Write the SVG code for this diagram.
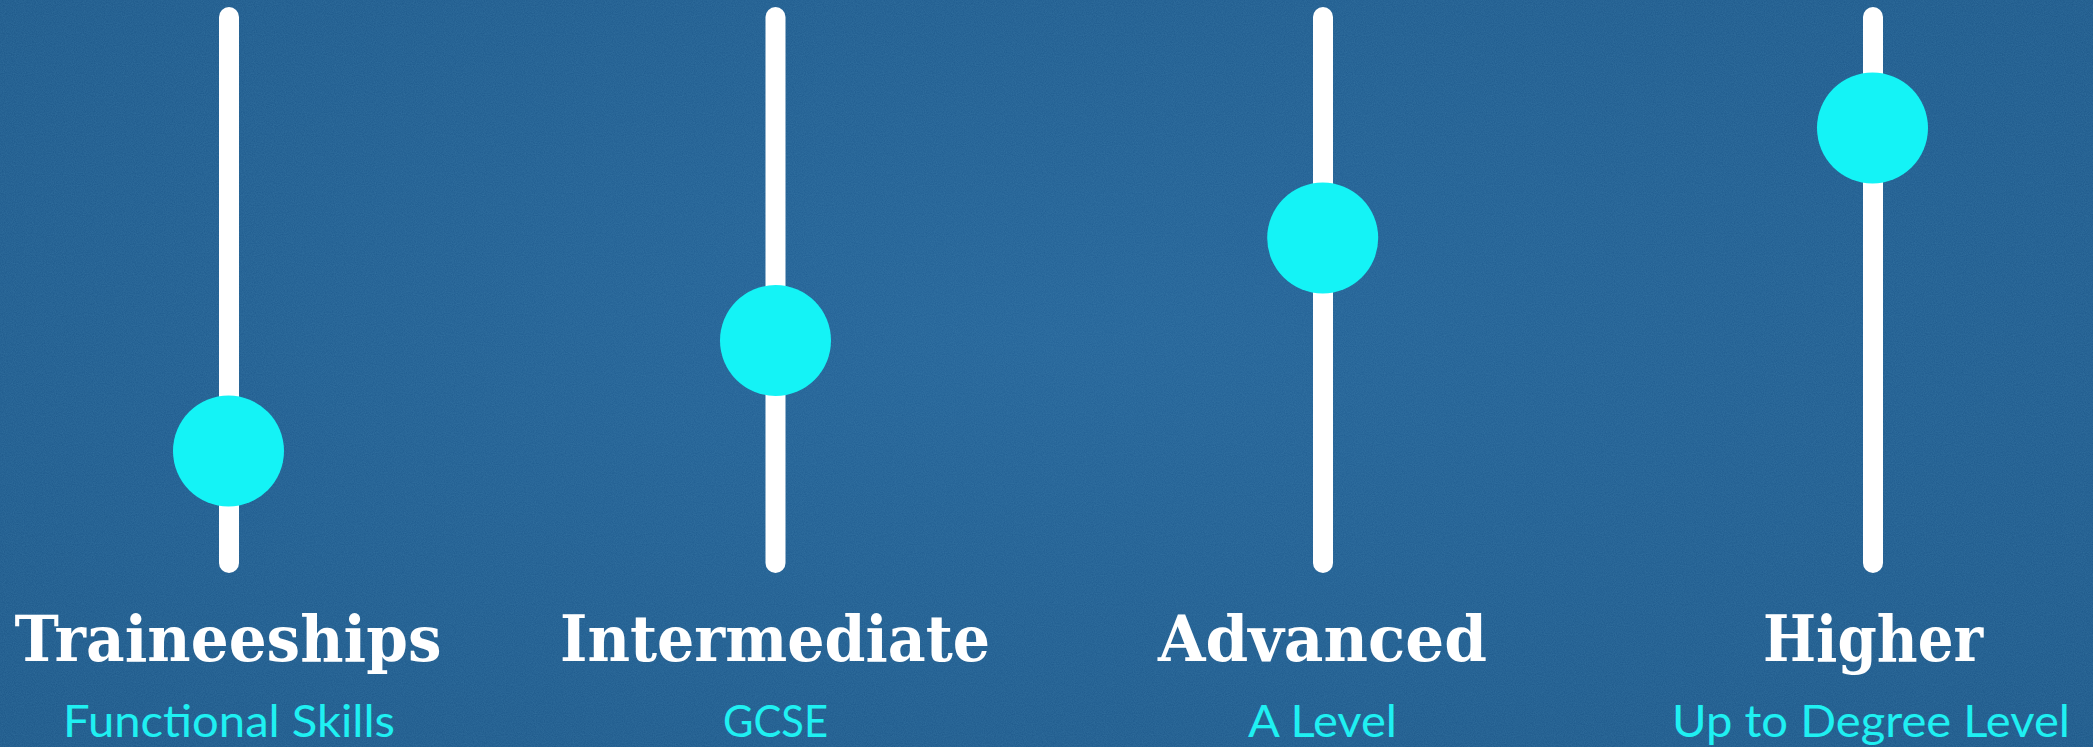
<svg xmlns="http://www.w3.org/2000/svg" width="2093" height="747" viewBox="0 0 2093 747">
  <defs>
    <radialGradient id="bg" cx="50%" cy="45%" r="75%">
      <stop offset="0" stop-color="#236297"/>
      <stop offset="1" stop-color="#1c5687"/>
    </radialGradient>
    <filter id="noise" x="0" y="0" width="100%" height="100%">
      <feTurbulence type="fractalNoise" baseFrequency="0.9" numOctaves="2" seed="3" result="n"/>
      <feColorMatrix in="n" type="matrix" values="0 0 0 0 0.1  0 0 0 0 0.33  0 0 0 0 0.55  0 0 0 0.3 0"/>
    </filter>
    <style>
      .track { stroke: #ffffff; stroke-width: 20; stroke-linecap: round; fill: none; }
      .knob { fill: #14f3f6; }
      .title { font-family: "DejaVu Serif", "Liberation Serif", serif; font-weight: bold; font-size: 64px; fill: #ffffff; text-anchor: middle; }
      .sub { font-family: "Lato", "Open Sans", "Liberation Sans", sans-serif; font-size: 44px; fill: #1ff0f2; text-anchor: middle; }
    </style>
  </defs>
  <rect x="0" y="0" width="2093" height="747" fill="url(#bg)"/>
  <rect x="0" y="0" width="2093" height="747" filter="url(#noise)"/>
  <g id="connectors"></g>
  <g id="traineeships">
    <line class="track" x1="229" y1="17" x2="229" y2="563"/>
    <circle class="knob" cx="228.5" cy="451" r="55.5"/>
    <text class="title" x="228" y="661" textLength="427" lengthAdjust="spacingAndGlyphs">Traineeships</text>
    <text class="sub" x="229" y="737" textLength="332" lengthAdjust="spacingAndGlyphs">Functional Skills</text>
  </g>
  <g id="intermediate">
    <line class="track" x1="775.5" y1="17" x2="775.5" y2="563"/>
    <circle class="knob" cx="775.5" cy="340.5" r="55.5"/>
    <text class="title" x="775" y="661" textLength="430" lengthAdjust="spacingAndGlyphs">Intermediate</text>
    <text class="sub" x="775.5" y="737" textLength="105" lengthAdjust="spacingAndGlyphs">GCSE</text>
  </g>
  <g id="advanced">
    <line class="track" x1="1323" y1="17" x2="1323" y2="563"/>
    <circle class="knob" cx="1322.7" cy="238" r="55.5"/>
    <text class="title" x="1322.5" y="661" textLength="329" lengthAdjust="spacingAndGlyphs">Advanced</text>
    <text class="sub" x="1322.5" y="737" textLength="149" lengthAdjust="spacingAndGlyphs">A Level</text>
  </g>
  <g id="higher">
    <line class="track" x1="1873" y1="17" x2="1873" y2="563"/>
    <circle class="knob" cx="1872.5" cy="128" r="55.5"/>
    <text class="title" x="1873" y="661" textLength="220" lengthAdjust="spacingAndGlyphs">Higher</text>
    <text class="sub" x="1871" y="737" textLength="398" lengthAdjust="spacingAndGlyphs">Up to Degree Level</text>
  </g>
</svg>
